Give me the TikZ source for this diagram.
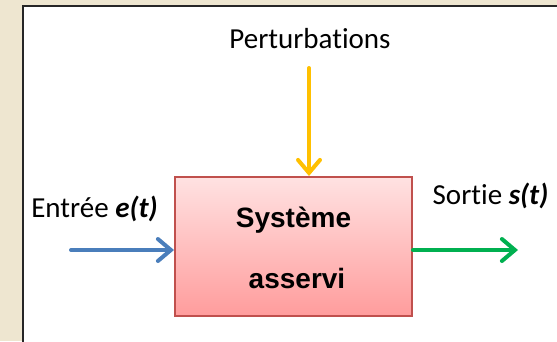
\documentclass[tikz,border=0pt]{standalone}
\usepackage{fontspec}
\setmainfont{Carlito}[Ligatures={NoCommon}]
\newfontfamily\arialfont{Liberation Sans}
\usetikzlibrary{arrows.meta}
\definecolor{bgbeige}{HTML}{EEE6D0}
\definecolor{boxborder}{HTML}{C0504D}
\definecolor{boxtop}{HTML}{FFE2E2}
\definecolor{boxbot}{HTML}{FF9C9C}
\definecolor{inblue}{HTML}{4A7EBB}
\definecolor{outgreen}{HTML}{00B050}
\definecolor{perturb}{HTML}{FFC000}
\tikzset{
  lbl/.style={inner sep=0pt, font=\fontsize{29}{31}\selectfont, anchor=base},
  systxt/.style={inner sep=0pt, font=\arialfont\bfseries\fontsize{28}{30}\selectfont, anchor=base},
  sysbox/.style={draw=boxborder, line width=2pt, top color=boxtop, bottom color=boxbot, minimum width=237pt, minimum height=139pt, inner sep=0pt},
  sig/.style={line width=4pt, line cap=round, -{Straight Barb[length=13pt,width=22pt,line cap=round]}},
}
\begin{document}
\begin{tikzpicture}[x=1pt,y=-1pt]
\useasboundingbox (0,0) rectangle (557,341);
\fill[bgbeige] (0,0) rectangle (557,341);
\draw[fill=white, line width=2pt, draw=black!85] (23,6) rectangle (580,360);
\node[sysbox] (sys) at (293.5,246.5) {};
\node[systxt] (t1) at (293.5,227) {Système};
\node[systxt] (t2) at (297,288) {asservi};
\node[lbl] (pert) at (310,48) {Perturbations};
\node[lbl] (ent) at (94.5,217) {Entrée \textbf{\textit{e(t)}}};
\node[lbl] (sor) at (490.5,204) {Sortie \textbf{\textit{s(t)}}};
\coordinate (pstart) at (309,68);
\coordinate (istart) at (71,250);
\coordinate (oend) at (518,250);
\draw[sig, perturb] (pstart) -- (pstart |- sys.north);
\draw[sig, inblue] (istart) -- (istart -| sys.west);
\draw[sig, outgreen] (oend -| sys.east) -- (oend);
\end{tikzpicture}
\end{document}
